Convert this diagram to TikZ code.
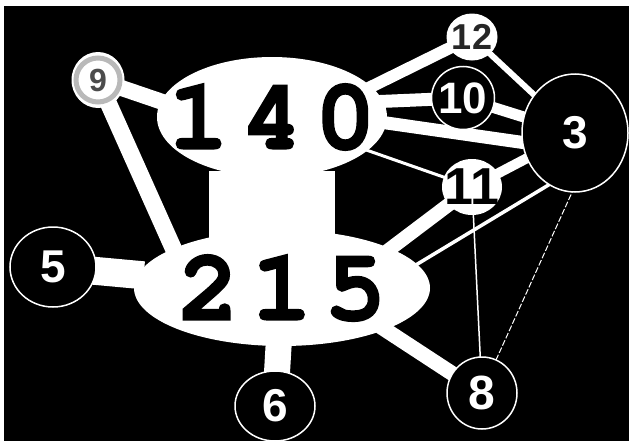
\documentclass[tikz,border=0pt]{standalone}
\usepackage{fontspec}
\setmainfont{Liberation Sans}
\newfontfamily\bignum{texgyrecursor-bold}[Extension=.otf,FakeBold=1.5,LetterSpace=12]
\usetikzlibrary{shapes.geometric,backgrounds}
\newcommand\num[1]{\makebox[0pt]{#1}}

\begin{document}
\begin{tikzpicture}[x=1pt,y=-1pt,
  bigoval/.style={ellipse,fill=white,inner sep=0pt,
    font=\bignum\fontsize{102}{102}\selectfont},
  fs/.style={font=\bfseries\fontsize{#1}{#1}\selectfont},
  numdot/.style={ellipse,inner sep=0pt,fs=46},
  blackdot/.style={numdot,fill=black,draw=white,line width=1.5pt,text=white},
  whitedot/.style={numdot,fill=white,text=black},
  wire/.style={white,line width=#1,shorten <=-6pt,shorten >=-6pt}]

  % the two big ovals
  \node[bigoval,minimum width=230pt,minimum height=120pt] (n140) at (272,117) {\num{140}};
  \node[bigoval,minimum width=296pt,minimum height=116pt] (n215) at (282,288) {\num{215}};

  % small ones
  \node[whitedot,minimum width=53pt,minimum height=56pt,fs=32,text=gray!60!black,
    path picture={\draw[gray!55,line width=5pt] (path picture bounding box.center) circle (22pt);}]
    (n9) at (98,80) {\num{9}};
  \node[whitedot,minimum width=51pt,minimum height=47pt,fs=36,text=black!85] (n12) at (472,37) {\num{12}};
  \node[blackdot,minimum width=63pt,minimum height=63pt,fs=44] (n10) at (463,98) {\num{10}};
  \node[blackdot,minimum width=106pt,minimum height=118pt] (n3) at (575,133) {\num{3}};
  \node[whitedot,minimum width=60pt,minimum height=56pt,fs=52] (n11) at (472,187) {\num{11}};
  \node[blackdot,minimum width=86pt,minimum height=80pt] (n5) at (53,267) {\num{5}};
  \node[blackdot,minimum width=80pt,minimum height=70pt] (n6) at (275,406) {\num{6}};
  \node[blackdot,minimum width=70pt,minimum height=72pt,fs=48] (n8) at (482,393) {\num{8}};

  \begin{pgfonlayer}{background}
    \fill[white] (0,0) rectangle (629,441);
    \fill[black] (4,6) rectangle (629,441);

    % links
    \draw[wire=126pt] (n140) -- (n140 |- n215);
    \draw[wire=16pt] (n9) -- (n140.172);
    \draw[wire=17pt] (n9) -- (n215.160);
    \draw[wire=28pt] (n5) -- (n215);
    \draw[wire=26pt] (n6) -- (n215);
    \draw[wire=15pt] (n215.338) -- (n8);
    \draw[wire=14pt] (n215.20) -- (n11);
    \draw[wire=3.5pt] (n215.10) -- (n3.243);
    \draw[wire=12pt] (n140.17) -- (n12);
    \draw[wire=13pt] (n140.8) -- (n10);
    \draw[wire=13pt] (n140.357) -- (n3.190);
    \draw[wire=3pt] (n140) -- (n11);
    \draw[wire=6pt] (n12) -- (n3);
    \draw[wire=11pt] (n10) -- (n3);
    \draw[wire=10pt] (n11) -- (n3);
    \draw[wire=1.5pt] (n11) -- (n8);
    \draw[wire=1pt,dash pattern=on 6pt off 2pt] (n3.267) -- (n8.67);
  \end{pgfonlayer}
\end{tikzpicture}
\end{document}
